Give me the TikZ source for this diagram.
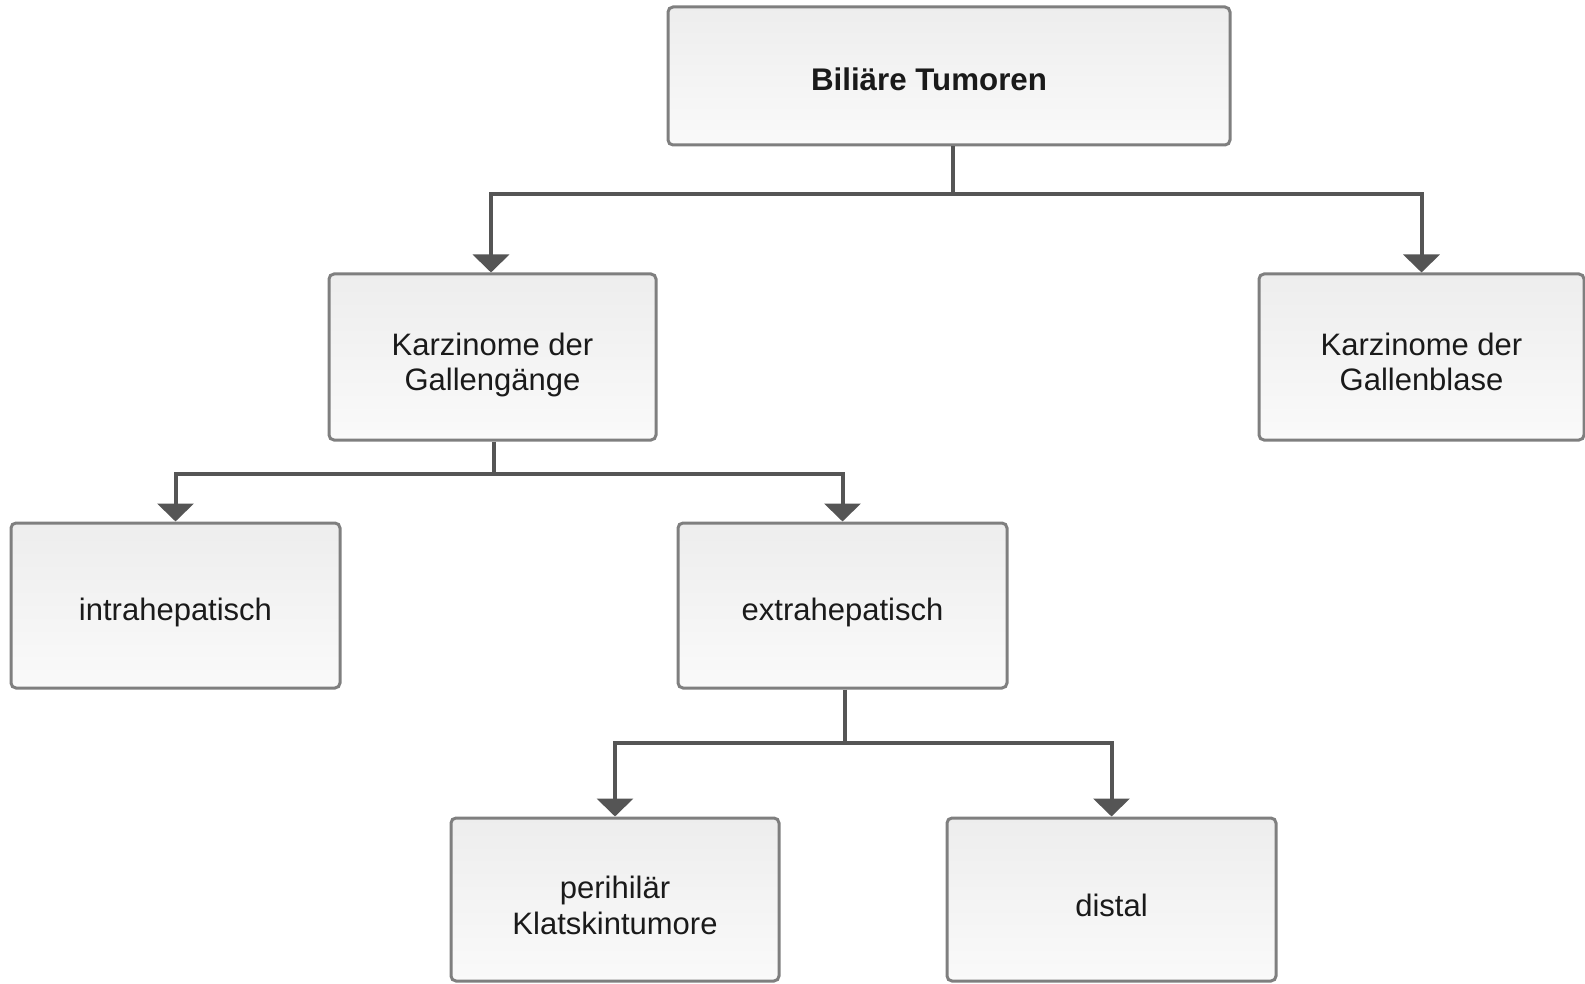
\documentclass[tikz,border=0pt]{standalone}
\usepackage{fontspec}
\setmainfont{Liberation Sans}
\usetikzlibrary{arrows.meta}
\definecolor{boxline}{HTML}{7F7F7F}
\definecolor{conn}{HTML}{555555}
\definecolor{txt}{HTML}{1A1A1A}
\tikzset{
  box/.style={draw=boxline, line width=3pt, rounded corners=5pt,
    top color=black!7, bottom color=black!2, inner sep=0pt},
  boxtext/.style={align=center, text=txt, font=\fontsize{31}{35.5}\selectfont, inner sep=0pt},
  conn/.style={draw=conn, line width=4pt},
  arr/.style={conn, -{Triangle[width=36pt,length=18pt]}}
}
\begin{document}
\begin{tikzpicture}[x=1pt,y=-1pt]
\useasboundingbox (0,0) rectangle (1585,984);
\node[box, minimum width=562pt, minimum height=138pt,
  label={[boxtext, font=\fontsize{31.3}{35.5}\selectfont\bfseries, xshift=-20pt, yshift=-3pt]center:Biliäre Tumoren}] (top) at (949,76) {};
\node[box, minimum width=327pt, minimum height=166pt,
  label={[boxtext, yshift=-8pt]center:{Karzinome der\\Gallengänge}}] (gang) at (492.5,357) {};
\node[box, minimum width=325pt, minimum height=166pt,
  label={[boxtext, yshift=-5pt]center:{Karzinome der\\Gallenblase}}] (blase) at (1421.5,357) {};
\node[box, minimum width=329pt, minimum height=165pt,
  label={[boxtext, yshift=-7pt]center:intrahepatisch}] (intra) at (175.5,605.5) {};
\node[box, minimum width=329pt, minimum height=165pt,
  label={[boxtext, yshift=-7pt]center:extrahepatisch}] (extra) at (842.5,605.5) {};
\node[box, minimum width=328pt, minimum height=163pt,
  label={[boxtext, yshift=-6pt]center:{perihilär\\Klatskintumore}}] (peri) at (615,899.5) {};
\node[box, minimum width=329pt, minimum height=163pt,
  label={[boxtext, yshift=-6pt]center:distal}] (distal) at (1111.5,899.5) {};
% connectors
\coordinate (j1) at ([xshift=4pt]top.south);
\coordinate (j2) at ([xshift=1.5pt]gang.south);
\coordinate (j3) at ([xshift=2.5pt]extra.south);
\draw[conn] (j1) -- ++(0,48);
\draw[arr] (j1) ++(0,48) -| ([xshift=-1.5pt]gang.north);
\draw[arr] (j1) ++(0,48) -| (blase.north);
\draw[conn] (j2) -- ++(0,32);
\draw[arr] (j2) ++(0,32) -| (intra.north);
\draw[arr] (j2) ++(0,32) -| (extra.north);
\draw[conn] (j3) -- ++(0,53);
\draw[arr] (j3) ++(0,53) -| (peri.north);
\draw[arr] (j3) ++(0,53) -| (distal.north);
\end{tikzpicture}
\end{document}
